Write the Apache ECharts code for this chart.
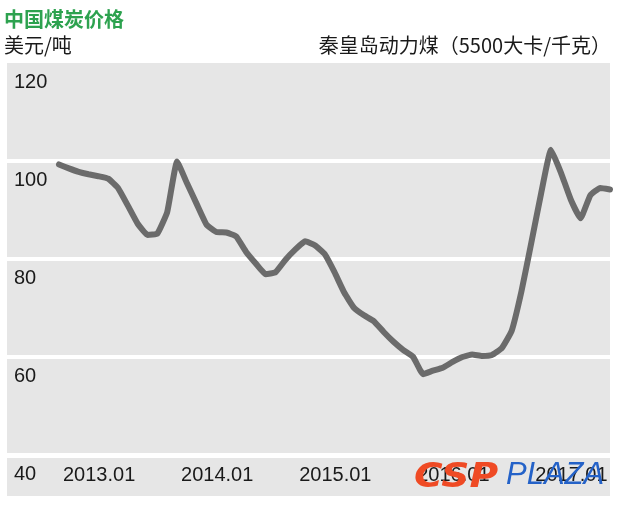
<!DOCTYPE html>
<html>
<head>
<meta charset="utf-8">
<script src="https://cdn.jsdelivr.net/npm/echarts@6/dist/echarts.min.js"></script>
<style>
html,body{margin:0;padding:0;background:#fff;}
#chart{width:620px;height:505px;}
</style>
</head>
<body>
<div id="chart"></div>
<script>
// Monthly Qinhuangdao 5500 kcal thermal coal price, USD/t, Jan 2013 - Sep 2017
var startYear = 2013;
var prices = [99.3, 98.5, 97.8, 97.3, 96.9, 96.4, 94.5, 90.9, 87.2, 84.9,
              85.2, 89.6, 99.9, 95.5, 91.2, 87.0, 85.5, 85.4, 84.6, 81.5,
              79.1, 76.9, 77.3, 79.8, 81.9, 83.6, 82.8, 81.0, 77.3, 73.1,
              70.0, 68.5, 67.3, 65.1, 63.1, 61.4, 60.0, 56.5, 57.2, 57.8,
              59.0, 60.0, 60.5, 60.2, 60.4, 61.8, 65.3, 73.4, 83.3, 93.4,
              102.3, 97.7, 92.2, 88.3, 93.0, 94.5, 94.2];
var tickMonths = [0, 12, 24, 36, 48];
var tickLabels = ['2013.01', '2014.01', '2015.01', '2016.01', '2017.01'];
var yTicks = [40, 60, 80, 100, 120];

var titleText = '中国煤炭价格';
var unitText = '美元/吨';
var seriesText = '秦皇岛动力煤（5500大卡/千克）';

var seriesData = prices.map(function (v, i) { return [i, v]; });

var chart = echarts.init(document.getElementById('chart'), null, {renderer: 'canvas'});
var numFont = '"Liberation Sans", Arial, Helvetica, sans-serif';
var cjkFont = '"Noto Sans CJK SC", "Noto Sans", sans-serif';

chart.setOption({
  animation: false,
  backgroundColor: '#ffffff',
  grid: {
    show: true,
    left: 7, right: 10, top: 63, bottom: 50,
    backgroundColor: '#e6e6e6',
    borderWidth: 0
  },
  xAxis: {
    type: 'value',
    min: -5.285,
    max: prices.length - 1,
    axisLine: {show: false},
    axisTick: {show: false},
    splitLine: {show: false},
    axisLabel: {
      customValues: tickMonths,
      formatter: function (v) {
        var k = tickMonths.indexOf(Math.round(v));
        return k >= 0 ? tickLabels[k] : '';
      },
      align: 'left',
      padding: [0, 0, 0, 4],
      margin: 10,
      fontFamily: numFont,
      fontSize: 20,
      color: '#1a1a1a',
      hideOverlap: false
    }
  },
  yAxis: {
    type: 'value',
    min: 40,
    max: 120,
    interval: 20,
    axisLine: {show: false},
    axisTick: {show: false},
    splitLine: {
      show: true,
      showMaxLine: false,
      lineStyle: {color: '#ffffff', width: 4}
    },
    axisLabel: {
      inside: true,
      margin: 7,
      align: 'left',
      verticalAlign: 'top',
      padding: [9, 0, 0, 0],
      fontFamily: numFont,
      fontSize: 20,
      color: '#1a1a1a'
    }
  },
  series: [{
    type: 'line',
    data: seriesData,
    symbol: 'none',
    smooth: 0.12,
    lineStyle: {color: '#6b6b6b', width: 6, cap: 'round', join: 'round'},
    z: 3
  }],
  graphic: [
    {type: 'rect', shape: {x: 7, y: 458, width: 603, height: 38}, style: {fill: '#e6e6e6'}, z: -1, silent: true},
    {type: 'text', left: 4, top: 9, style: {text: titleText, font: 'bold 20px ' + cjkFont, fill: '#2da24f'}},
    {type: 'text', left: 4, top: 35, style: {text: unitText, font: '20px ' + cjkFont, fill: '#1a1a1a'}},
    {type: 'text', right: 9, top: 35, style: {text: seriesText, font: '20px ' + cjkFont, fill: '#1a1a1a'}},
    {type: 'text', x: 414, y: 461, z: 100, scaleX: 1.15, style: {text: 'CSP', font: 'italic bold 34px "DejaVu Sans", sans-serif', fill: '#ef4a24'}},
    {type: 'text', x: 506, y: 460, z: 100, style: {text: 'PLAZA', font: 'italic 31px ' + numFont, fill: '#2462c8'}}
  ]
});
</script>
</body>
</html>
